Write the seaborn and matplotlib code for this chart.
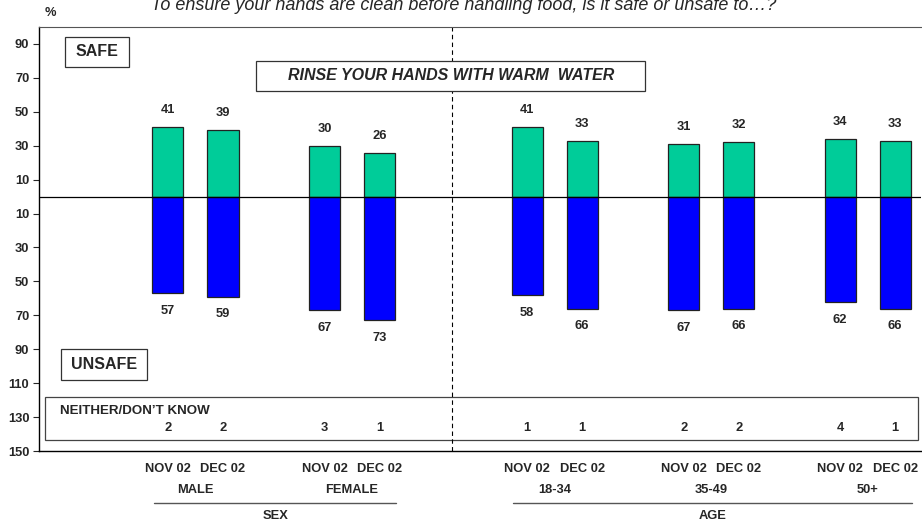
import matplotlib
matplotlib.use("Agg")
import matplotlib.pyplot as plt
import matplotlib.patches as mpatches
import numpy as np
import pandas as pd
import seaborn as sns

# survey values
groups = ["MALE", "FEMALE", "18-34", "35-49", "50+"]
periods = ["NOV 02", "DEC 02"]
safe_nov = [41, 30, 41, 31, 34]
safe_dec = [39, 26, 33, 32, 33]
unsafe_nov = [57, 67, 58, 67, 62]
unsafe_dec = [59, 73, 66, 66, 66]
neither_nov = [2, 3, 1, 2, 4]
neither_dec = [2, 1, 1, 2, 1]
sections = ["SEX", "AGE"]
section_groups = [[0, 1], [2, 3, 4]]

title = "To ensure your hands are clean before handling food, is it safe or unsafe to\u2026?"
question = "RINSE YOUR HANDS WITH WARM  WATER"
y_ticks = [90, 70, 50, 30, 10, -10, -30, -50, -70, -90, -110, -130, -150]

sns.set_style("ticks")
plt.rcParams["font.family"] = ["Liberation Sans", "DejaVu Sans"]

GREEN = "#00CC99"
BLUE = "#0000FF"
FS = 9.3

# group centres: regular spacing, extra gap between SEX and AGE sections
step, gap = 2.845, 0.84
centres = []
for i in range(len(groups)):
    centres.append(i * step + (gap if i >= 2 else 0))

rows = []
for i, g in enumerate(groups):
    vals = [(safe_nov[i], unsafe_nov[i], neither_nov[i]),
            (safe_dec[i], unsafe_dec[i], neither_dec[i])]
    for j, p in enumerate(periods):
        s, u, n = vals[j]
        rows.append({"group": g, "period": p, "x": centres[i] + (j - 0.5),
                     "safe": s, "unsafe": -u, "neither": n})
df = pd.DataFrame(rows)

fig = plt.figure(figsize=(9.22, 5.25), dpi=100)
ax = fig.add_axes([39 / 922, 1 - 451 / 525, 882 / 922, 424 / 525])

sns.barplot(data=df, x="x", y="safe", native_scale=True, width=0.564,
            color=GREEN, saturation=1, edgecolor="#222222", linewidth=0.9, ax=ax)
sns.barplot(data=df, x="x", y="unsafe", native_scale=True, width=0.564,
            color=BLUE, saturation=1, edgecolor="#222222", linewidth=0.9, ax=ax)

xmin, xmax = -2.845, 13.19
ax.set_xlim(xmin, xmax)
ax.set_ylim(-150, 100)
ax.set_xticks([])
ax.set_xlabel("")
ax.set_ylabel("")
ax.set_yticks(y_ticks)
ax.set_yticklabels([str(abs(t)) for t in y_ticks], fontsize=FS, fontweight="bold")
ax.tick_params(axis="y", length=4, width=0.8, pad=3)
ax.spines["right"].set_visible(False)
ax.spines["top"].set_color("#555555")
for s in ["left", "bottom"]:
    ax.spines[s].set_color("black")
    ax.spines[s].set_linewidth(1)

ax.axhline(0, color="black", lw=0.9, zorder=3)
ax.axvline(4.664, color="black", lw=0.8, ls=(0, (4, 3)))

lbl = dict(ha="center", va="center", fontsize=FS, fontweight="bold")
for _, r in df.iterrows():
    ax.text(r["x"], r["safe"] + 10, str(r["safe"]), **lbl)
    ax.text(r["x"], r["unsafe"] - 10.5, str(-r["unsafe"]), **lbl)
    ax.text(r["x"], -136.5, str(r["neither"]), **lbl)
    ax.text(r["x"], -160.5, r["period"], clip_on=False, **lbl)

for i, g in enumerate(groups):
    ax.text(centres[i], -173, g, clip_on=False, **lbl)

for name, idx in zip(sections, section_groups):
    x0 = centres[idx[0]] - 0.5 - 0.25
    x1 = centres[idx[-1]] + 0.5 + 0.3
    ax.plot([x0, x1], [-180.5, -180.5], color="#555555", lw=1, clip_on=False)
    ax.text((x0 + x1) / 2, -188.5, name, clip_on=False, **lbl)

# boxed annotations
def box(x0, x1, y0, y1, ec="#333333"):
    ax.add_patch(mpatches.Rectangle((x0, y0), x1 - x0, y1 - y0, fill=True,
                                    facecolor="white", edgecolor=ec, lw=0.9, zorder=4))

box(-2.373, -1.209, 76.5, 94.1)
ax.text(-1.79, 85.3, "SAFE", ha="center", va="center", fontsize=11.5,
        fontweight="bold", zorder=5)
box(1.1, 8.17, 62.4, 80)
ax.text(4.64, 71.2, question, ha="center", va="center", fontsize=11.5,
        fontweight="bold", style="italic", zorder=5)
box(-2.445, -0.882, -108.2, -90)
ax.text(-1.66, -99.1, "UNSAFE", ha="center", va="center", fontsize=11.5,
        fontweight="bold", zorder=5)
box(-2.736, 13.136, -143.5, -118, ec="#444444")
ax.patches[-1].set_zorder(1)
ax.patches[-1].set_fill(False)
ax.text(-2.46, -126.3, "NEITHER/DON\u2019T KNOW", ha="left", va="center",
        fontsize=9.6, fontweight="bold", zorder=5)

fig.text(45 / 922, 1 - 13 / 525, "%", ha="left", va="center", fontsize=FS,
         fontweight="bold")
fig.text(464 / 922, 1 - 6 / 525, title, ha="center", va="center", fontsize=13,
         style="italic")

fig.savefig("out.png", dpi=100)
